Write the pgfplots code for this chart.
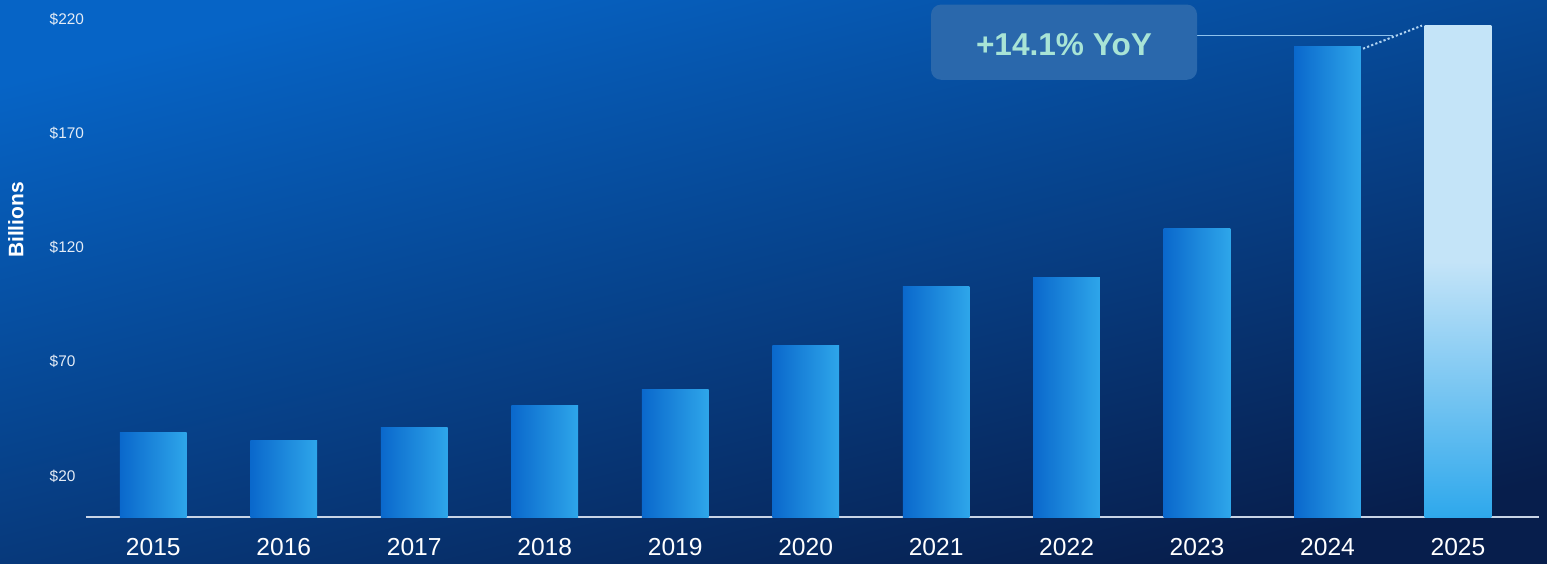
\documentclass[border=0pt]{standalone}
\usepackage{pgfplots}
\pgfplotsset{compat=1.18}
\usepackage{fontspec}
\setmainfont{Liberation Sans}
\definecolor{bgtop}{HTML}{0664C6}
\definecolor{bgbot}{HTML}{071E4C}
\definecolor{barL}{HTML}{0A68CC}
\definecolor{barR}{HTML}{2EA6EA}
\definecolor{lastT}{HTML}{C4E4F8}
\definecolor{lastB}{HTML}{2EA8EC}
\definecolor{boxfill}{HTML}{2A68AC}
\definecolor{yoy}{HTML}{A8E4D6}
\definecolor{conn}{HTML}{8EC2EC}
\definecolor{axisline}{HTML}{C8D4E6}
\definecolor{ticktext}{HTML}{E4ECF6}
\pgfdeclareverticalshading{lastbar}{100bp}{color(0bp)=(lastB); color(25bp)=(lastB); color(51bp)=(lastT); color(100bp)=(lastT)}
\pgfplotsset{gbar/.style={ybar, bar width=33.35pt, draw=none, left color=barL, right color=barR}}
\begin{document}
\begin{tikzpicture}
\fill[top color=bgtop, bottom color=bgbot, shading angle=14] (0,0) rectangle (773.5pt,281.5pt);
\begin{axis}[
  at={(43pt,23pt)}, anchor=south west,
  scale only axis, width=726.5pt, height=251.3pt,
  xmin=-0.516, xmax=10.621, ymin=2.1, ymax=222,
  separate axis lines,
  axis x line*=bottom, axis y line*=left,
  x axis line style={draw=axisline, line width=0.9pt, -},
  y axis line style={draw=none},
  major tick style={draw=none},
  xtick={0,1,2,3,4,5,6,7,8,9,10},
  xticklabels={2015,2016,2017,2018,2019,2020,2021,2022,2023,2024,2025},
  ytick={20,70,120,170,220},
  yticklabels={\$20,\$70,\$120,\$170,\$220},
  yticklabel style={anchor=west, inner sep=0pt, xshift=-18.35pt, font=\fontsize{7.7}{9}\selectfont, text=ticktext},
  xticklabel style={anchor=north, inner sep=0pt, yshift=-10.6pt, font=\fontsize{12.3}{14}\selectfont, text=white},
  ylabel={Billions},
  ylabel style={at={(axis description cs:-0.0482,0.591)}, anchor=center, font=\fontsize{10.5}{12}\selectfont\bfseries, text=white},
  clip=false,
]
\addplot[gbar] coordinates {(0,38.9)};
\addplot[gbar] coordinates {(1,35.5)};
\addplot[gbar] coordinates {(2,41.2)};
\addplot[gbar] coordinates {(3,50.7)};
\addplot[gbar] coordinates {(4,57.7)};
\addplot[gbar] coordinates {(5,77.1)};
\addplot[gbar] coordinates {(6,102.9)};
\addplot[gbar] coordinates {(7,107.1)};
\addplot[gbar] coordinates {(8,128.3)};
\addplot[gbar] coordinates {(9,207.9)};
\addplot[ybar, bar width=33.35pt, draw=none, shade, shading=lastbar]
  coordinates {(10,217.3)};
\draw[conn, line width=0.8pt] (axis cs:8.0,212.7) -- (axis cs:9.50,212.7);
\draw[conn!70!white, line width=1pt, dash pattern=on 1.1pt off 1.1pt] (axis cs:9.272,207) -- (axis cs:9.724,217.1);
\fill[boxfill, rounded corners=5pt] (axis cs:5.961,193.4) rectangle (axis cs:8.0,226.3);
\node[anchor=base, text=yoy, font=\fontsize{15.8}{18}\selectfont\bfseries, inner sep=0pt] at (axis cs:6.98,203.9) {+14.1\% YoY};
\end{axis}
\pgfresetboundingbox
\useasboundingbox (0,0) rectangle (773.5pt,281.5pt);
\end{tikzpicture}
\end{document}
